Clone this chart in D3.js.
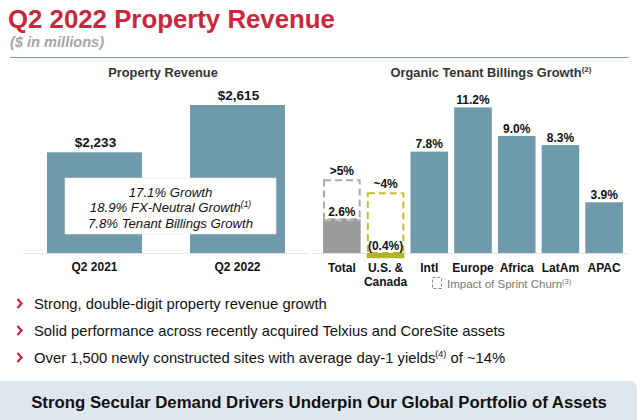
<!DOCTYPE html>
<html><head><meta charset="utf-8">
<script src="https://cdn.jsdelivr.net/npm/d3@7"></script>
<style>
html,body{margin:0;padding:0;background:#fff;}
svg{display:block;font-family:"Liberation Sans",Arial,sans-serif;}
</style></head>
<body>
<svg id="chart" width="640" height="420"></svg>
<script>
// ---- data ----
const revPeriods = ["Q2 2021", "Q2 2022"];
const revValues = [2233, 2615];
const revLabels = ["$2,233", "$2,615"];
const growthLines = ["17.1% Growth", "18.9% FX-Neutral Growth", "7.8% Tenant Billings Growth"];
const growthSup = ["", "(1)", ""];

const regions = ["Total", "U.S. & Canada", "Intl", "Europe", "Africa", "LatAm", "APAC"];
const regionLines = [["Total"], ["U.S. &", "Canada"], ["Intl"], ["Europe"], ["Africa"], ["LatAm"], ["APAC"]];
const billingGrowth = [2.6, -0.4, 7.8, 11.2, 9.0, 8.3, 3.9];
const billingLabels = ["2.6%", "(0.4%)", "7.8%", "11.2%", "9.0%", "8.3%", "3.9%"];
const exChurnRegions = ["Total", "U.S. & Canada"];
const exChurnGrowth = [5.6, 4.6];
const exChurnLabels = [">5%", "~4%"];

const bullets = [
  ["Strong, double-digit property revenue growth", "", ""],
  ["Solid performance across recently acquired Telxius and CoreSite assets", "", ""],
  ["Over 1,500 newly constructed sites with average day-1 yields", "(4)", " of ~14%"]
];

// ---- drawing ----
const svg = d3.select("#chart");
const RED = "#c8283c", TEAL = "#6f9aab", GRAY = "#9b9b9b", OLIVE = "#b3b22a", OLIVE_D = "#c4c12e";

// header
svg.append("text").attr("x", 8).attr("y", 28).attr("font-size", 25.8).attr("font-weight", "bold")
  .attr("fill", RED).text("Q2 2022 Property Revenue");
svg.append("text").attr("x", 10).attr("y", 47).attr("font-size", 14.6).attr("font-weight", "bold")
  .attr("font-style", "italic").attr("fill", "#a6a6a6").text("($ in millions)");
svg.append("line").attr("x1", 10).attr("x2", 629).attr("y1", 57.5).attr("y2", 57.5)
  .attr("stroke", "#e07a86").attr("stroke-width", 1.2);

// ---- left chart ----
const xL = d3.scaleBand().domain(revPeriods).range([23, 309]).paddingInner(0.336).paddingOuter(0.168);
const yL = d3.scaleLinear().domain([1420, 2615]).range([253, 105]);

svg.append("text").attr("x", 163).attr("y", 77).attr("text-anchor", "middle").attr("font-size", 12.8)
  .attr("font-weight", "bold").attr("fill", "#333").text("Property Revenue");

svg.append("line").attr("x1", 23).attr("x2", 309).attr("y1", yL(1420) + 0.5).attr("y2", yL(1420) + 0.5)
  .attr("stroke", "#e4e4e4").attr("stroke-width", 1);

svg.selectAll(".rbar").data(revValues).join("rect").attr("class", "rbar")
  .attr("x", (d, i) => xL(revPeriods[i])).attr("width", xL.bandwidth())
  .attr("y", d => yL(d)).attr("height", d => yL(1420) - yL(d)).attr("fill", TEAL);

svg.selectAll(".rlab").data(revValues).join("text").attr("class", "rlab")
  .attr("x", (d, i) => xL(revPeriods[i]) + xL.bandwidth() / 2 + 1).attr("y", d => yL(d) - 5)
  .attr("text-anchor", "middle").attr("font-size", 13.5).attr("font-weight", "bold").attr("fill", "#111")
  .text((d, i) => revLabels[i]);

const axL = d3.axisBottom(xL).tickSize(0).tickPadding(0);
const gL = svg.append("g").attr("transform", `translate(0,${yL(1420)})`).call(axL);
gL.select(".domain").remove();
gL.selectAll("text").attr("y", 17.5).attr("dy", 0).attr("font-size", 12).attr("font-weight", "bold")
  .attr("fill", "#111").attr("font-family", "Liberation Sans, Arial, sans-serif");

// growth box
svg.append("rect").attr("x", 65).attr("y", 178).attr("width", 211).attr("height", 56)
  .attr("fill", "#fff").attr("stroke", "#e6e6e6").attr("stroke-width", 0.6);
growthLines.forEach((t, i) => {
  const tx = svg.append("text").attr("x", 170.5).attr("y", 196.5 + i * 15.5).attr("text-anchor", "middle")
    .attr("font-size", 13.2).attr("font-style", "italic").attr("fill", "#111");
  tx.append("tspan").text(t);
  if (growthSup[i]) tx.append("tspan").attr("font-size", 8.5).attr("dy", -5).text(growthSup[i]);
});

// ---- right chart ----
const xR = d3.scaleBand().domain(regions).range([320, 626]).paddingInner(0.14).paddingOuter(0.07);
const yR = d3.scaleLinear().domain([0, 12]).range([253, 97]);

const tR = svg.append("text").attr("x", 491).attr("y", 77).attr("text-anchor", "middle")
  .attr("font-size", 12.8).attr("font-weight", "bold").attr("fill", "#333");
tR.append("tspan").text("Organic Tenant Billings Growth");
tR.append("tspan").attr("font-size", 8).attr("dy", -5).text("(2)");

svg.append("line").attr("x1", 312).attr("x2", 628).attr("y1", yR(0) + 0.5).attr("y2", yR(0) + 0.5)
  .attr("stroke", "#e4e4e4").attr("stroke-width", 1);

const barColor = (i) => i === 0 ? GRAY : (i === 1 ? OLIVE : TEAL);

// dashed ex-churn boxes
svg.selectAll(".cbox").data(exChurnGrowth).join("rect").attr("class", "cbox")
  .attr("x", (d, i) => xR(exChurnRegions[i]) + 1)
  .attr("width", xR.bandwidth() - 2)
  .attr("y", d => yR(d))
  .attr("height", (d, i) => yR(Math.max(0, billingGrowth[regions.indexOf(exChurnRegions[i])])) - yR(d))
  .attr("fill", "none")
  .attr("stroke", (d, i) => i === 0 ? "#a9a9a9" : OLIVE_D)
  .attr("stroke-width", 2).attr("stroke-dasharray", "7,4");

svg.selectAll(".gbar").data(billingGrowth).join("rect").attr("class", "gbar")
  .attr("x", (d, i) => xR(regions[i])).attr("width", xR.bandwidth())
  .attr("y", d => yR(Math.max(0, d))).attr("height", d => Math.abs(yR(d) - yR(0)))
  .attr("fill", (d, i) => barColor(i));

// dashed top edge over the gray total bar
svg.append("line").attr("x1", xR("Total") + 1).attr("x2", xR("Total") + xR.bandwidth() - 1)
  .attr("y1", yR(billingGrowth[0]) + 1).attr("y2", yR(billingGrowth[0]) + 1)
  .attr("stroke", "#bdbdbd").attr("stroke-width", 2).attr("stroke-dasharray", "7,4");

svg.selectAll(".glab").data(billingGrowth).join("text").attr("class", "glab")
  .attr("x", (d, i) => xR(regions[i]) + xR.bandwidth() / 2)
  .attr("y", (d, i) => i === 1 ? yR(0) - 3 : yR(d) - 3.5)
  .attr("text-anchor", "middle").attr("font-size", 12).attr("font-weight", "bold").attr("fill", "#111")
  .text((d, i) => billingLabels[i]);

svg.selectAll(".clab").data(exChurnGrowth).join("text").attr("class", "clab")
  .attr("x", (d, i) => xR(exChurnRegions[i]) + xR.bandwidth() / 2)
  .attr("y", d => yR(d) - 5)
  .attr("text-anchor", "middle").attr("font-size", 12).attr("font-weight", "bold").attr("fill", "#111")
  .text((d, i) => exChurnLabels[i]);

// category labels
regions.forEach((r, i) => {
  const t = svg.append("text").attr("x", xR(r) + xR.bandwidth() / 2).attr("y", 271.5)
    .attr("text-anchor", "middle").attr("font-size", 12).attr("font-weight", "bold").attr("fill", "#111");
  regionLines[i].forEach((ln, j) => t.append("tspan").attr("x", xR(r) + xR.bandwidth() / 2)
    .attr("dy", j === 0 ? 0 : 14).text(ln));
});

// legend
svg.append("rect").attr("x", 432.5).attr("y", 277.5).attr("width", 9).attr("height", 11)
  .attr("fill", "none").attr("stroke", "#888").attr("stroke-width", 1).attr("stroke-dasharray", "3,2");
const lg = svg.append("text").attr("x", 447).attr("y", 288).attr("font-size", 11.5).attr("fill", "#777");
lg.append("tspan").text("Impact of Sprint Churn");
lg.append("tspan").attr("font-size", 7.5).attr("dy", -4.5).text("(3)");

// bullets
bullets.forEach((b, i) => {
  const by = 309 + i * 27;
  svg.append("path").attr("d", `M17.5,${by - 10} L21.5,${by - 5.5} L17.5,${by - 1}`)
    .attr("fill", "none").attr("stroke", RED).attr("stroke-width", 2.4);
  const t = svg.append("text").attr("x", 34).attr("y", by).attr("font-size", 14.8).attr("fill", "#111");
  t.append("tspan").text(b[0]);
  if (b[1]) {
    t.append("tspan").attr("font-size", 9).attr("dy", -6).text(b[1]);
    t.append("tspan").attr("dy", 6).text(b[2]);
  }
});

// banner
svg.append("path").attr("d", "M0,381 L629,381 Q637,381 637,389 L637,420 L0,420 Z").attr("fill", "#dfe6ed");
svg.append("text").attr("x", 319).attr("y", 407.5).attr("text-anchor", "middle").attr("font-size", 16.8)
  .attr("font-weight", "bold").attr("fill", "#111")
  .text("Strong Secular Demand Drivers Underpin Our Global Portfolio of Assets");
</script>
</body></html>
